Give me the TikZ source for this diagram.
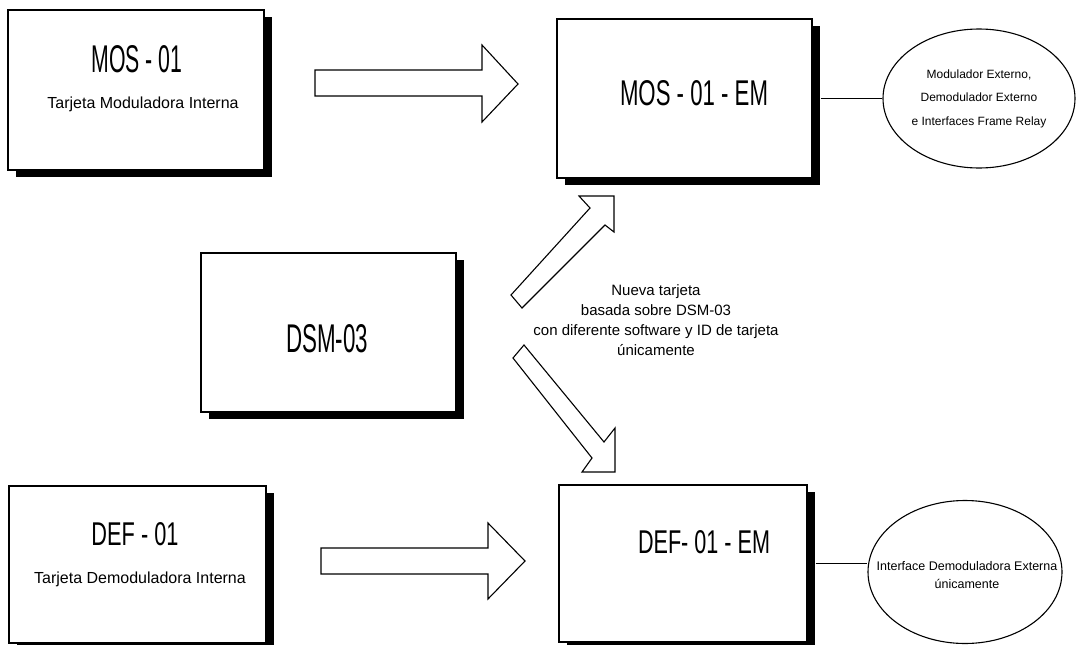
\documentclass[tikz,border=0pt]{standalone}
\usepackage{fontspec}
\usepackage{graphicx}
\setmainfont{Liberation Sans}
\usetikzlibrary{shapes.geometric,shadows}

% condensed card title: width, cap height, text
\newcommand{\cardtitle}[3]{\resizebox{#1}{#2}{\fontsize{30}{30}\selectfont #3}}

\begin{document}
\begin{tikzpicture}[x=1pt,y=-1pt,
  card/.style={draw,line width=1.2pt,fill=white,inner sep=0pt,
    drop shadow={shadow xshift=8pt,shadow yshift=-7pt,opacity=1,fill=black}},
  cardtitle/.style={anchor=base,inner sep=0pt},
  cardnote/.style={anchor=base,inner sep=0pt,font=\fontsize{16}{19}\selectfont},
  bubble/.style={ellipse,draw,line width=1.1pt,inner sep=0pt},
  blockarrow/.style={draw,line width=1.1pt,fill=white,line join=miter},
  link/.style={line width=0.8pt}
]
\useasboundingbox (0,0) rectangle (1077,645);
\clip (0,0) rectangle (1077,645);

% cards
\node[card,minimum width=256pt,minimum height=160pt] (mos) at (136,90) {};
\node[card,minimum width=255pt,minimum height=159pt] (mosem) at (684.5,98.5) {};
\node[card,minimum width=255pt,minimum height=159pt] (dsm) at (328.5,332.5) {};
\node[card,minimum width=257pt,minimum height=157pt] (def) at (137.5,564.5) {};
\node[card,minimum width=248pt,minimum height=157pt] (defem) at (683,563.5) {};

% card titles and notes
\node[cardtitle] (mosT) at (137,72) {\cardtitle{91pt}{27pt}{MOS - 01}};
\node[cardnote] (mosN) at (143,108) {Tarjeta Moduladora Interna};
\node[cardtitle] (mosemT) at (694,105) {\cardtitle{148pt}{25pt}{MOS - 01 - EM}};
\node[cardtitle] (dsmT) at (327,352) {\cardtitle{82pt}{28pt}{DSM-03}};
\node[cardtitle] (defT) at (135,545) {\cardtitle{87pt}{23pt}{DEF - 01}};
\node[cardnote] (defN) at (140,583) {Tarjeta Demoduladora Interna};
\node[cardtitle] (defemT) at (704,553) {\cardtitle{132pt}{23pt}{DEF- 01 - EM}};

% interface bubbles
\node[bubble,minimum width=192pt,minimum height=139pt,
  label={[align=center,font=\fontsize{12}{23.5}\selectfont]center:Modulador Externo,\\Demodulador Externo\\e Interfaces Frame Relay}]
  (ell1) at (979,98.5) {};
\node[bubble,minimum width=194pt,minimum height=143pt,
  label={[align=center,font=\fontsize{12.5}{18}\selectfont,yshift=-3pt,xshift=2pt]center:Interface Demoduladora Externa\\únicamente}]
  (ell2) at (965,572) {};

\draw[link] ([xshift=8pt]mosem.east) -- (ell1.west);
\draw[link] ([xshift=8pt]defem.east) -- (defem.east -| ell2.west);

% block arrows
\draw[blockarrow] (315,70) -- (482,70) -- (482,45) -- (518,84) -- (482,122)
  -- (482,96) -- (315,96) -- cycle;
\draw[blockarrow] (321,548) -- (488,548) -- (488,523) -- (525,561) -- (488,599)
  -- (488,574) -- (321,574) -- cycle;
\draw[blockarrow] (522,308) -- (605,225) -- (614,232) -- (614,196) -- (579,196)
  -- (590,208) -- (511,295) -- cycle;
\draw[blockarrow] (524,345) -- (604,442) -- (615,428) -- (615,472) -- (582,472)
  -- (592,458) -- (513,358) -- cycle;

% explanation
\node[align=center,inner sep=0pt,font=\fontsize{15}{20}\selectfont] (note) at (656,320)
  {Nueva tarjeta\\basada sobre DSM-03\\con diferente software y ID de tarjeta\\únicamente};
\end{tikzpicture}
\end{document}
